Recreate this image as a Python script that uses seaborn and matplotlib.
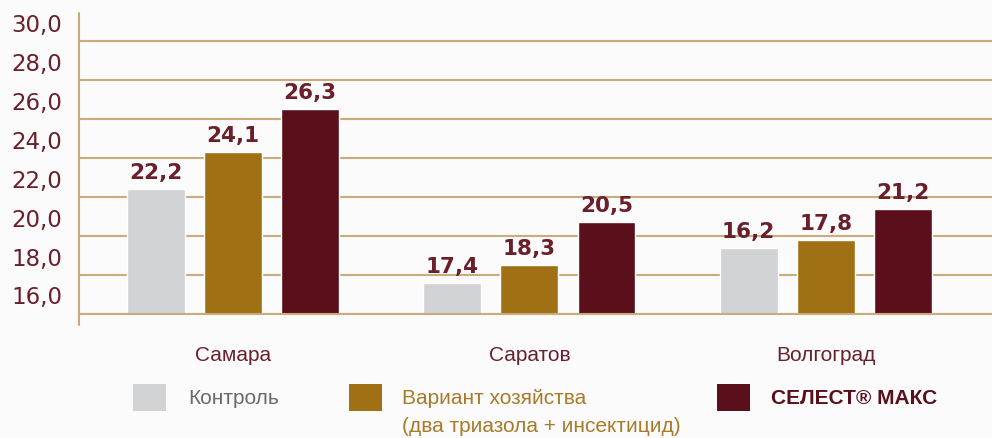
import pandas as pd
import numpy as np
import matplotlib
matplotlib.use('Agg')
import matplotlib.pyplot as plt
import seaborn as sns
from matplotlib.patches import Rectangle

# Data
cities = ['Самара', 'Саратов', 'Волгоград']
variants = ['Контроль', 'Вариант хозяйства\n(два триазола + инсектицид)', 'СЕЛЕСТ® МАКС']
# printed values
control = [22.2, 17.4, 16.2]
farm = [24.1, 18.3, 17.8]
celest = [26.3, 20.5, 21.2]
# bar heights as drawn in the reference (Volgograd grey/gold bars are drawn taller than their labels)
control_drawn = [22.2, 17.4, 19.2]
farm_drawn = [24.1, 18.3, 19.6]
celest_drawn = [26.3, 20.5, 21.2]
y_labels = ['16,0', '18,0', '20,0', '22,0', '24,0', '26,0', '28,0', '30,0']

colors = ['#d1d2d4', '#a07014', '#5a0f1a']
text_colors = ['#6a6a6a', '#a87a2a', '#5a0f1a']
grid_col = '#c9ac7c'
label_col = '#6b1f2a'
bg = '#fbfbfb'

df = pd.DataFrame({
    'city': cities * 3,
    'variant': [variants[0]] * 3 + [variants[1]] * 3 + [variants[2]] * 3,
    'height': control_drawn + farm_drawn + celest_drawn,
    'value': control + farm + celest,
})

sns.set_theme(style='white')
plt.rcParams['font.family'] = ['Liberation Sans', 'DejaVu Sans']

fig = plt.figure(figsize=(9.92, 4.39), dpi=100, facecolor=bg)
ax = fig.add_axes([0.0796, 0.2825, 0.920, 0.6856])
ax.set_facecolor(bg)

sns.barplot(data=df, x='city', y='height', hue='variant', palette=colors,
            width=0.78, gap=0.25, saturation=1, legend=False, ax=ax)

base = 15.8
ax.set_ylim(base, 31.24)
ax.set_xlim(-0.52, 2.56)

# gridlines at base + 2k, labels halfway between
ax.set_yticks([base + 2 * k for k in range(8)])
ax.set_yticklabels([])
ax.set_yticks([base + 1 + 2 * k for k in range(len(y_labels))], minor=True)
ax.set_yticklabels(y_labels, minor=True, family='DejaVu Sans')
ax.tick_params(axis='y', which='both', length=0, pad=12)
ax.tick_params(axis='y', which='minor', labelsize=16.5, labelcolor=label_col)
ax.yaxis.grid(True, which='major', color=grid_col, linewidth=1.5)
ax.set_axisbelow(True)

ax.set_xticks(range(len(cities)))
ax.set_xticklabels(cities)
ax.set_xticks([0.5, 1.5], minor=True)
ax.tick_params(axis='x', which='major', length=0, pad=22, labelsize=15, labelcolor=label_col)
ax.tick_params(axis='x', which='minor', length=6, width=1, color='#a07014', direction='out')

for s in ['top', 'right', 'left']:
    ax.spines[s].set_visible(False)
ax.spines['bottom'].set_color(grid_col)
ax.spines['bottom'].set_linewidth(1.5)
ax.plot([0, 0], [-0.035, 1], transform=ax.transAxes, color=grid_col,
        linewidth=1.5, clip_on=False)

ax.set_xlabel('')
ax.set_ylabel('')

vals = [control, farm, celest]
for cont, v in zip(ax.containers, vals):
    ax.bar_label(cont, labels=[f'{x:.1f}'.replace('.', ',') for x in v],
                 padding=5, fontsize=15.5, fontweight='bold', color=label_col,
                 family='DejaVu Sans')

# legend
sq_x = [133, 349, 717]
tx_x = [188, 402, 771]
W, H = 992, 439
for i, name in enumerate(variants):
    fig.add_artist(Rectangle((sq_x[i] / W, (H - 412) / H), 33 / W, 27 / H,
                             transform=fig.transFigure, color=colors[i], lw=0))
    fig.text(tx_x[i] / W, (H - 389) / H, name, va='top', ha='left',
             fontsize=15, color=text_colors[i], linespacing=1.6,
             fontweight='bold' if i == 2 else 'normal')

plt.savefig('out.png', dpi=100, facecolor=bg)
